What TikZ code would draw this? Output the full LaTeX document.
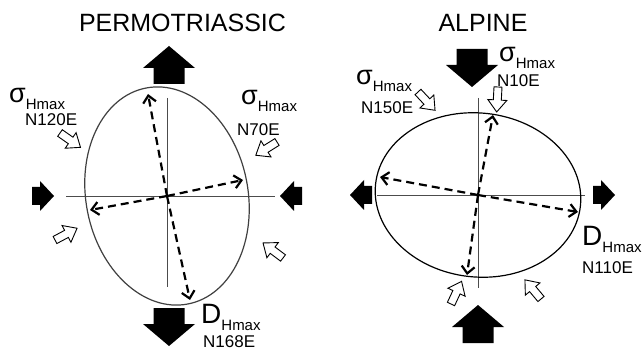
\documentclass[tikz,border=0pt]{standalone}
\usepackage{fontspec}
\setmainfont{Liberation Sans}
\usetikzlibrary{arrows.meta}
\newcommand\shmax{{\fontsize{27}{27}\selectfont σ}\raisebox{-7pt}{\fontsize{15}{15}\selectfont Hmax}}
\newcommand\dhmax{{\fontsize{28}{28}\selectfont D}\raisebox{-7pt}{\fontsize{15}{15}\selectfont Hmax}}
\begin{document}
\begin{tikzpicture}[x=1pt,y=-1pt,
  axis/.style={gray!60!black,line width=0.8pt},
  ell/.style={line width=1.2pt},
  dasharrow/.style={-{Straight Barb[length=7pt,width=13pt]},line width=2.2pt,dash pattern=on 8pt off 5pt},
  lbl/.style={inner sep=0pt,anchor=base west,font=\fontsize{17}{17}\selectfont},
  ttl/.style={inner sep=0pt,anchor=base,font=\fontsize{25}{25}\selectfont},
  bigblock/.pic={\fill (0,-15.5)--(16,-15.5)--(16,-26)--(38,0)--(16,26)--(16,15.5)--(0,15.5)--cycle;},
  sideblock/.pic={\fill (0,-9)--(8,-9)--(8,-15)--(22,0)--(8,15)--(8,9)--(0,9)--cycle;},
  hollow/.pic={\draw[fill=white,line width=0.9pt] (0,-4)--(13,-4)--(13,-9.5)--(25,0)--(13,9.5)--(13,4)--(0,4)--cycle;}]
\useasboundingbox[fill=white] (0,0) rectangle (643,350);
% permotriassic
\node[ttl] (ptitle) at (182.5,32) {PERMOTRIASSIC};
\coordinate (pc) at (167,196);
\draw[axis] (66,196)--(275,196);
\draw[axis] (167,98)--(167,287);
\draw[ell,gray!50!black,rotate around={11:(pc)}] (pc) ellipse [x radius=81,y radius=110];
\coordinate (pn) at (148,94);
\coordinate (ps) at (190,300);
\coordinate (pe) at (243,180);
\coordinate (pw) at (90,210);
\foreach \t in {pn,ps,pe,pw} \draw[dasharrow] (pc)--(\t);
\pic[rotate=90] at (169,84) {bigblock};
\pic[rotate=-90] at (169,308) {bigblock};
\pic at (32,196) {sideblock};
\pic[rotate=180] at (302,196) {sideblock};
\pic[rotate=-35] at (60,133) {hollow};
\pic[rotate=28] at (55,240) {hollow};
\pic[rotate=-148] at (277,142) {hollow};
\pic[rotate=143] at (283,258) {hollow};
\node[lbl] (psig1) at (9,103) {\shmax};
\node[lbl] (pdir1) at (25,126) {N120E};
\node[lbl] (psig2) at (241,105) {\shmax};
\node[lbl] (pdir2) at (237,136) {N70E};
\node[lbl] (pdh) at (201,323) {\dhmax};
\node[lbl] (pdir3) at (203,347) {N168E};
% alpine
\node[ttl] (atitle) at (483,32) {ALPINE};
\coordinate (ac) at (478,195);
\draw[axis] (377,195)--(585,195);
\draw[axis] (478,98)--(478,288);
\draw[ell,rotate around={-6:(ac)}] (ac) ellipse [x radius=103,y radius=82];
\coordinate (an) at (493,115);
\coordinate (as) at (467,275);
\coordinate (aw) at (380,177);
\coordinate (ae) at (578,212);
\foreach \t in {an,as,aw,ae} \draw[dasharrow] (ac)--(\t);
\pic[rotate=-90] at (472,49) {bigblock};
\pic[rotate=90] at (478,343) {bigblock};
\pic[rotate=180] at (372,195) {sideblock};
\pic at (593,195) {sideblock};
\pic[rotate=-93] at (498,87) {hollow};
\pic[rotate=-47] at (418,92) {hollow};
\pic[rotate=65] at (451,304) {hollow};
\pic[rotate=130] at (541,299) {hollow};
\node[lbl] (asig1) at (356,85) {\shmax};
\node[lbl] (adir1) at (361,114) {N150E};
\node[lbl] (asig2) at (499,62) {\shmax};
\node[lbl] (adir2) at (497,87) {N10E};
\node[lbl] (adh) at (582,245) {\dhmax};
\node[lbl] (adir3) at (582,273) {N110E};
\end{tikzpicture}
\end{document}
